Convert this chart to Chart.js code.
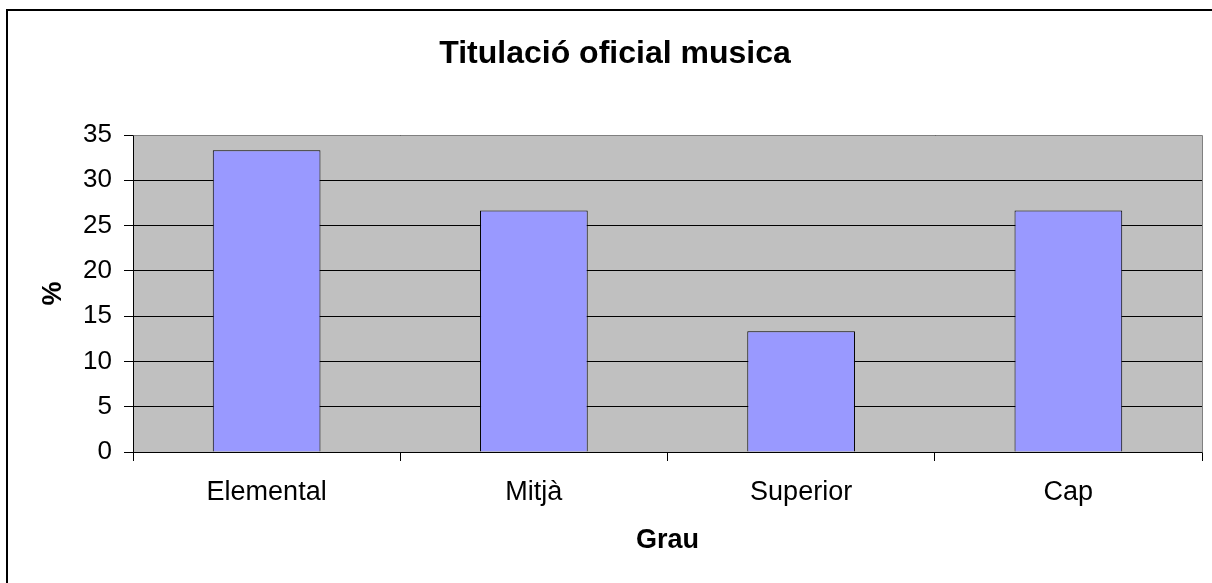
<!DOCTYPE html>
<html>
<head>
<meta charset="utf-8">
<script src="https://cdn.jsdelivr.net/npm/chart.js@4/dist/chart.umd.min.js"></script>
<style>
  html, body { margin: 0; padding: 0; background: #fff; }
  #wrap { width: 1212px; height: 583px; position: relative; }
</style>
</head>
<body>
<div id="wrap"><canvas id="c" width="1212" height="583"></canvas></div>
<script>
const chartTitle = "Titulació oficial musica";
const categories = ["Elemental", "Mitjà", "Superior", "Cap"];
const values = [33.33, 26.67, 13.33, 26.67];
const xAxisTitle = "Grau";
const yAxisTitle = "%";

const FONT = "'Liberation Sans', Arial, sans-serif";
Chart.defaults.color = "#000";
Chart.defaults.font.family = FONT;

const frame = {
  id: "frame",
  beforeDraw(chart) {
    const ctx = chart.ctx;
    const a = chart.chartArea;
    ctx.save();
    ctx.fillStyle = "#fff";
    ctx.fillRect(0, 0, chart.width, chart.height);
    ctx.fillStyle = "#c0c0c0";
    ctx.fillRect(a.left, a.top, a.right - a.left, a.bottom - a.top);
    ctx.restore();
  },
  afterDraw(chart) {
    const ctx = chart.ctx;
    const a = chart.chartArea;
    ctx.save();
    ctx.strokeStyle = "#808080";
    ctx.lineWidth = 1;
    ctx.beginPath();
    ctx.moveTo(Math.round(a.left) + 0.5, Math.round(a.top) + 0.5);
    ctx.lineTo(Math.round(a.right) + 0.5, Math.round(a.top) + 0.5);
    ctx.lineTo(Math.round(a.right) + 0.5, Math.round(a.bottom) + 0.5);
    ctx.stroke();
    ctx.strokeStyle = "#000";
    ctx.lineWidth = 2;
    ctx.beginPath();
    ctx.moveTo(7, chart.height + 2);
    ctx.lineTo(7, 10);
    ctx.lineTo(chart.width + 2, 10);
    ctx.stroke();
    ctx.restore();
  }
};

new Chart(document.getElementById("c"), {
  type: "bar",
  data: {
    labels: categories,
    datasets: [{
      data: values,
      backgroundColor: "#9999ff",
      borderColor: "#000",
      borderWidth: 1,
      categoryPercentage: 1.0,
      barPercentage: 0.403
    }]
  },
  plugins: [frame],
  options: {
    responsive: false,
    animation: false,
    layout: { padding: { left: 28, right: 10, top: 0, bottom: 0 } },
    plugins: {
      legend: { display: false },
      tooltip: { enabled: false },
      title: {
        display: true,
        text: chartTitle,
        color: "#000",
        font: { size: 32, weight: "bold", family: FONT, lineHeight: 1.2 },
        padding: { top: 35, bottom: 61.6 }
      }
    },
    scales: {
      x: {
        afterFit(s) { s.height = 131; },
        grid: {
          offset: true,
          drawOnChartArea: false,
          drawTicks: true,
          tickLength: 9,
          color: "#000",
          lineWidth: 1
        },
        border: { display: true, color: "#000", width: 1 },
        ticks: {
          color: "#000",
          font: { size: 27, family: FONT, lineHeight: 1.2 },
          padding: 15,
          maxRotation: 0,
          autoSkip: false
        },
        title: {
          display: true,
          text: xAxisTitle,
          color: "#000",
          font: { size: 27, weight: "bold", family: FONT, lineHeight: 1.2 },
          padding: { top: 0, bottom: 26 }
        }
      },
      y: {
        min: 0,
        max: 35,
        afterFit(s) { s.width = 105; },
        grid: {
          drawOnChartArea: true,
          drawTicks: true,
          tickLength: 9,
          color: "#000",
          lineWidth: 1
        },
        border: { display: true, color: "#000", width: 1 },
        ticks: {
          stepSize: 5,
          color: "#000",
          font: { size: 26, family: FONT, lineHeight: 1.2 },
          padding: 12
        },
        title: {
          display: true,
          text: yAxisTitle,
          color: "#000",
          font: { size: 27, weight: "bold", family: FONT, lineHeight: 1.2 },
          padding: { top: 9, bottom: 0 }
        }
      }
    }
  }
});
</script>
</body>
</html>
